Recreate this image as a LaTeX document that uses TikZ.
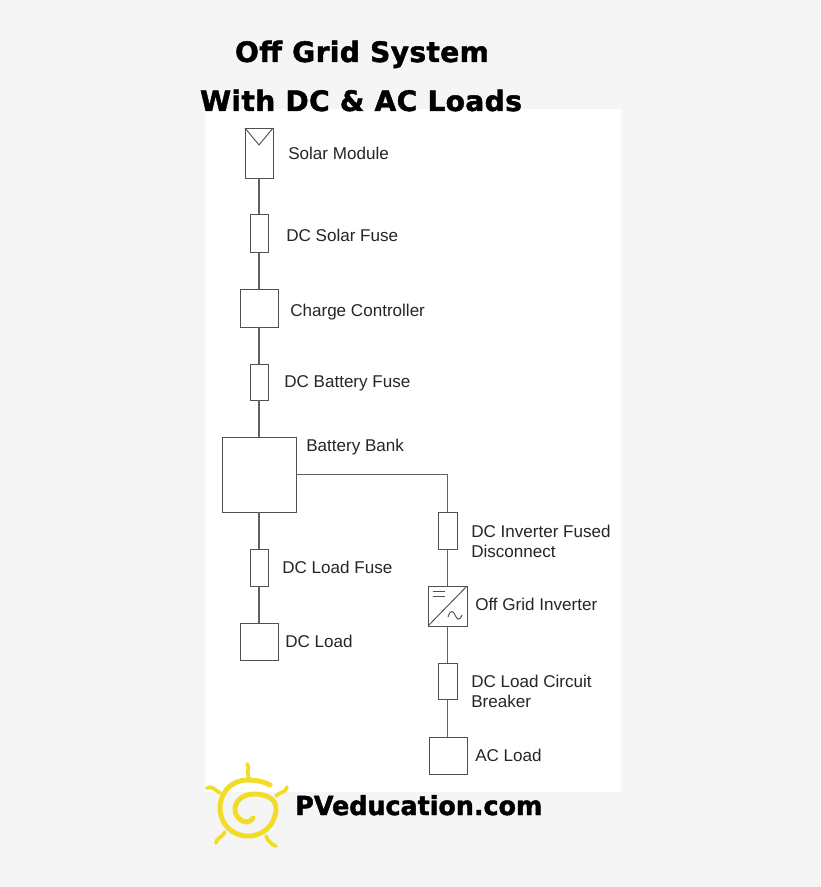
\documentclass[tikz,border=0pt]{standalone}
\usepackage{fontspec}
\usetikzlibrary{calc}
\setmainfont{Liberation Sans}
\newfontfamily\titlefont{DejaVu Sans Bold}[FakeBold=1.6,LetterSpace=1.2]
\newfontfamily\brandfont{DejaVu Sans Bold}[FakeBold=1.6,FakeStretch=0.97]
\definecolor{pagebg}{HTML}{F5F5F5}
\definecolor{ink}{HTML}{505050}
\definecolor{wire}{HTML}{606060}
\definecolor{sun}{HTML}{F2DC28}
\tikzset{
  x=0.75pt,y=-0.75pt,
  lab/.style={anchor=base west,inner sep=0pt,text=black!85,font=\fontsize{12.8pt}{15pt}\selectfont},
  head/.style={anchor=base,inner sep=0pt,text=black,font=\titlefont\fontsize{21.1pt}{24pt}\selectfont},
  brand/.style={anchor=base west,inner sep=0pt,text=black,font=\brandfont\fontsize{19.6pt}{24pt}\selectfont},
  cable/.style={draw=wire,line width=0.95pt},
  sunline/.style={draw=sun,line width=2.8pt,line cap=round,line join=round},
}
\newcommand{\sym}[5]{% name, x1,y1,x2,y2
  \node[draw=ink,line width=0.7pt,fill=white,inner sep=0pt,outer sep=0pt,
    minimum width=(#4-#2)*0.75pt,minimum height=(#5-#3)*0.75pt] (#1) at ({(#2+#4)/2},{(#3+#5)/2}) {};}
\begin{document}
\begin{tikzpicture}
\useasboundingbox (0,0) rectangle (820,887);
\fill[pagebg] (0,0) rectangle (820,887);
\fill[white] (205,109) rectangle (621,792);
% symbols
\sym{solar}{245}{128}{273}{178}
\sym{fa}{250}{214}{268}{252}
\sym{cc}{240}{289}{278}{327}
\sym{fb}{250}{364}{268}{400}
\sym{bat}{222}{437}{296}{512}
\sym{fc}{250}{549}{268}{586}
\sym{dcl}{240}{623}{278}{660}
\sym{fd}{438}{512}{457}{549}
\sym{inv}{428}{586}{467}{626}
\sym{fe}{438}{663}{457}{699}
\sym{acl}{429}{737}{467}{774}
% solar module mark
\draw[ink,line width=0.7pt] (solar.north west) -- ($(solar.north)+(0,17)$) -- (solar.north east);
% inverter marks
\draw[ink,line width=0.7pt] (inv.south west) -- (inv.north east);
\draw[ink,line width=0.7pt] (433,591) -- (445,591) (433,596) -- (445,596);
\draw[ink,line width=0.7pt] (448,617) .. controls (450,610) and (453,610) .. (455,615) .. controls (457,620) and (460,621) .. (462,615);
% connectors
\draw[cable] (solar) -- (fa);
\draw[cable] (fa) -- (cc);
\draw[cable] (cc) -- (fb);
\draw[cable] (fb) -- (bat.north -| fb);
\draw[cable] (bat.south -| fc) -- (fc);
\draw[cable] (fc) -- (dcl);
\draw[cable] (bat.east) -- (bat.east -| fd.north) -- (fd.north);
\draw[cable] (fd) -- (fd |- inv.north);
\draw[cable] (fd |- inv.south) -- (fe);
\draw[cable] (fe) -- (fe |- acl.north);
% labels
\node[lab] (l1) at (288,160) {Solar Module};
\node[lab] (l2) at (286,242) {DC Solar Fuse};
\node[lab] (l3) at (290,316) {Charge Controller};
\node[lab] (l4) at (284,387) {DC Battery Fuse};
\node[lab] (l5) at (306,451) {Battery Bank};
\node[lab] (l6) at (282,573) {DC Load Fuse};
\node[lab] (l7) at (285,647) {DC Load};
\node[lab] (l8) at (471,537) {DC Inverter Fused};
\node[lab] (l9) at (471,557) {Disconnect};
\node[lab] (l10) at (475,610) {Off Grid Inverter};
\node[lab] (l11) at (471,687) {DC Load Circuit};
\node[lab] (l12) at (471,707) {Breaker};
\node[lab] (l13) at (475,761) {AC Load};
% headings
\node[head] (t1) at (362,62) {Off Grid System};
\node[head] (t2) at (361,111) {With DC \& AC Loads};
\node[brand] (t3) at (295,815) {PVeducation.com};
% sun
\draw[sunline,line width=3.7pt] (270,785) .. controls (263,781) and (255,780) .. (247,780)
  .. controls (232,780) and (220,792) .. (220,808)
  .. controls (220,824) and (232,836) .. (248,836)
  .. controls (264,836) and (276,824) .. (276,808)
  .. controls (276,800) and (268,794) .. (254,794)
  .. controls (243,794) and (235,801) .. (235,809)
  .. controls (235,817) and (241,822) .. (247,822)
  .. controls (250,822) and (252,820) .. (253,818);
\draw[sunline] (247,764) .. controls (251,768) and (245,773) .. (249,777);
\draw[sunline] (287,787) .. controls (286,793) and (279,792) .. (276,796);
\draw[sunline] (207,788) .. controls (212,785) and (216,791) .. (220,793);
\draw[sunline] (216,843) .. controls (216,838) and (223,837) .. (225,832);
\draw[sunline] (266,836) .. controls (268,841) and (272,845) .. (276,846);
\end{tikzpicture}
\end{document}
